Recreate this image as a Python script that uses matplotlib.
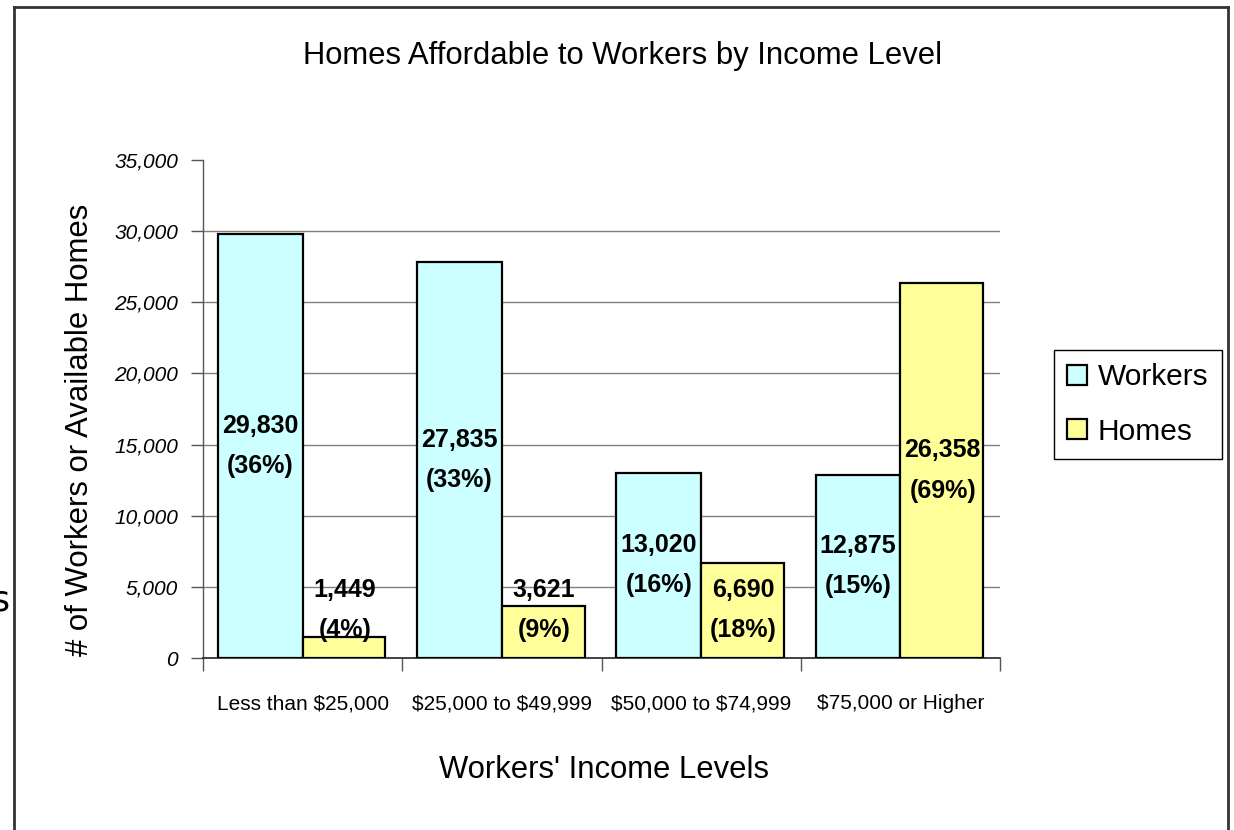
import numpy as np
import matplotlib
matplotlib.use("Agg")
import matplotlib.pyplot as plt
from matplotlib.lines import Line2D
from matplotlib.patches import Patch

plt.rcParams["text.parse_math"] = False

CATEGORIES = ["Less than $25,000", "$25,000 to $49,999", "$50,000 to $74,999", "$75,000 or Higher"]
WORKERS = [29830, 27835, 13020, 12875]
HOMES = [1449, 3621, 6690, 26358]
WORKERS_PCT = [36, 33, 16, 15]
HOMES_PCT = [4, 9, 18, 69]
YTICKS = [0, 5000, 10000, 15000, 20000, 25000, 30000, 35000]

NARROW = ["Liberation Sans Narrow", "Liberation Sans", "DejaVu Sans"]
BOLD = ["Liberation Sans", "DejaVu Sans"]
C_WORK = "#ccffff"
C_HOME = "#ffff99"

W, H = 1234, 830
fig = plt.figure(figsize=(W / 100, H / 100), dpi=100)
ax = fig.add_axes([203 / W, 1 - 658 / H, (1000 - 203) / W, (658 - 160) / H])

x = np.arange(len(CATEGORIES))
bw = 0.425
ax.bar(x, WORKERS, width=-bw, align="edge", color=C_WORK, edgecolor="black", lw=1.6, zorder=3)
ax.bar(x, HOMES, width=bw - 0.01, align="edge", color=C_HOME, edgecolor="black", lw=1.6, zorder=3)

# labels sit mid-bar, but never lower than a minimum height
lab_min = 3400
for i in range(len(x)):
    ax.text(x[i] - bw / 2, max(WORKERS[i] / 2, lab_min), f"{WORKERS[i]:,}\n({WORKERS_PCT[i]}%)",
            ha="center", va="center", fontsize=18, fontweight="bold", family=BOLD,
            linespacing=1.85, zorder=5)
    ax.text(x[i] + bw / 2, max(HOMES[i] / 2, lab_min), f"{HOMES[i]:,}\n({HOMES_PCT[i]}%)",
            ha="center", va="center", fontsize=18, fontweight="bold", family=BOLD,
            linespacing=1.85, zorder=5)

ax.set_xlim(-0.5, len(CATEGORIES) - 0.5)
ax.set_ylim(0, 35000)
ax.set_yticks(YTICKS)
ax.set_yticklabels([f"{v:,}" for v in YTICKS], family=NARROW, style="italic", fontsize=15)
for v in YTICKS[1:-1]:
    ax.axhline(v, color="#7f7f7f", lw=1.0, zorder=1)

ax.set_xticks(np.arange(len(CATEGORIES) + 1) - 0.5, minor=False)
ax.set_xticklabels([])
ax.set_xticks(x, minor=True)
ax.set_xticklabels(CATEGORIES, minor=True, family=NARROW, fontsize=15)
ax.tick_params(axis="x", which="minor", length=0, pad=26)
ax.tick_params(axis="x", which="major", length=9, width=1, color="#555555")
ax.tick_params(axis="y", length=9, width=1, color="#555555", pad=9)

for s in ["top", "right"]:
    ax.spines[s].set_visible(False)
ax.spines["left"].set_color("#555555")
ax.spines["left"].set_linewidth(1)
ax.spines["bottom"].set_color("#222222")
ax.spines["bottom"].set_linewidth(1.2)

fig.text(623 / W, 1 - 56 / H, "Homes Affordable to Workers by Income Level",
         ha="center", va="center", fontsize=22.3, family=NARROW)
fig.text(604 / W, 1 - 770 / H, "Workers' Income Levels",
         ha="center", va="center", fontsize=22.3, family=NARROW)
fig.text(80 / W, 1 - 430 / H, "# of Workers or Available Homes", rotation=90,
         ha="center", va="center", fontsize=22.4, family=NARROW)

# stray clipped glyph at the left edge
fig.text(0, 1 - 600 / H, "s", ha="center", va="center", fontsize=25)

# outer frame
for xs, ys in [((14, 14), (7, H + 5)), ((14, 1228), (7, 7)), ((1228, 1228), (7, H + 5))]:
    fig.add_artist(Line2D([v / W for v in xs], [1 - v / H for v in ys], color="#333333", lw=2))

handles = [Patch(facecolor=C_WORK, edgecolor="black", lw=1.6, label="Workers"),
           Patch(facecolor=C_HOME, edgecolor="black", lw=1.6, label="Homes")]
fig.legend(handles=handles, loc="upper left", bbox_to_anchor=(1054 / W, 1 - 350 / H),
           frameon=True, fancybox=False, edgecolor="black", framealpha=1,
           prop={"family": NARROW, "size": 21.5}, handlelength=0.66, handleheight=0.66,
           handletextpad=0.36, labelspacing=0.88, borderpad=0.45, borderaxespad=0)

fig.savefig("out.png", dpi=100)
